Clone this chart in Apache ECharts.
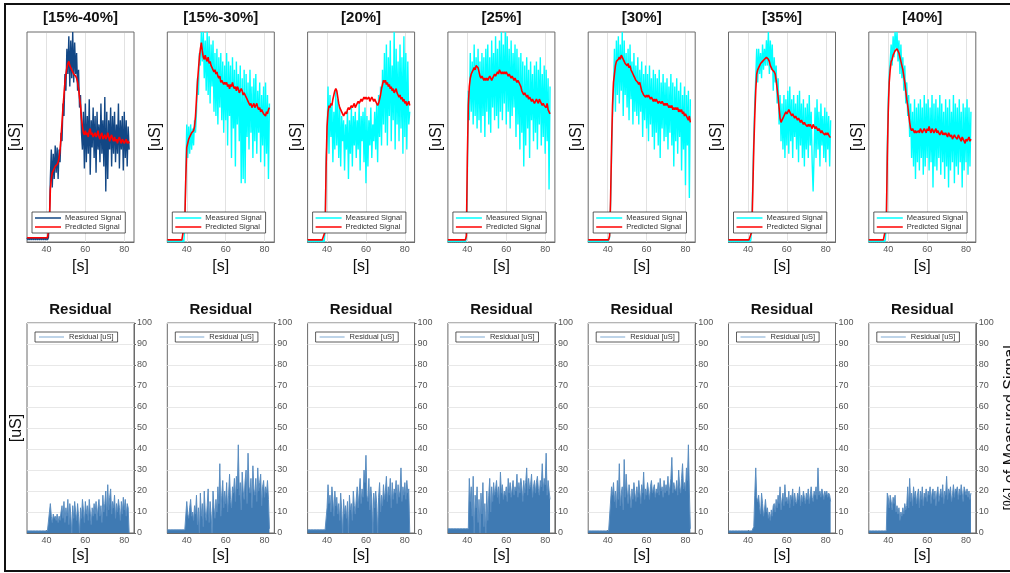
<!DOCTYPE html>
<html><head><meta charset="utf-8">
<script src="https://cdn.jsdelivr.net/npm/echarts@6/dist/echarts.min.js"></script>
<style>html,body{margin:0;padding:0;background:#fff}#c{width:1010px;height:573px}</style>
</head><body><div id="c"></div><script>
const TITLES = ['[15%-40%]','[15%-30%]','[20%]','[25%]','[30%]','[35%]','[40%]'];
const X_TICKS = [40,60,80];
const Y_LABEL = '[uS]', X_LABEL = '[s]', RIGHT_LABEL = '[%] of Measured Signal', RES_TITLE = 'Residual';
const T_START = 30, T_STEP = 0.5, N_PTS = 106;
const TIME = Array.from({length: N_PTS}, (_, i) => T_START + i * T_STEP);

const MEAS_1 = [2,1,2,1,2,1,2,1,2,1, 2,1,2,1,2,1,2,1,2,1, 2,1,2,10,30,44,26,42,30,46, 33,45,30,44,38,52,48,66,60,80,
 72,92,80,98,74,96,78,100,76,95, 80,90,72,82,64,70,52,44,62,35, 66,38,60,42,68,32,58,45,64,40, 60,33,62,44,56,38,66,42,58,36,
 69,24,62,30,58,44,64,36,60,42, 62,38,56,42,66,35,58,44,60,34, 62,40,58,36,55,44];
const PRED_1 = [2,2,2,2,2,2,2,2,2,2, 2,2,2,2,2,2,2,2,2,2, 2,2,2,8,25,30,33,34,35,36, 36,37,38,40,44,50,57,64,70,76,
 80,83,85,86,84,83,82,81,80,80, 79,78,76,73,69,65,59,55,52,51, 53,51,52,50,53,54,51,52,50,51, 52,50,51,53,50,49,51,52,49,50,
 51,49,50,52,50,48,50,51,49,48, 50,48,49,47,49,50,48,47,49,48, 47,48,49,47,48,47];

const MEAS_2 = [1,0,1,0,1,0,1,0,1,0, 1,0,1,0,1,0,1,0,8,32, 56,40,55,42,56,44,54,46,58,52, 62,78,70,90,84,100,86,100,78,96,
 72,100,70,98,66,94,74,96,62,90, 60,92,56,88,64,90,58,86,52,84, 58,90,46,86,60,84,40,88,54,82, 36,86,56,80,48,84,28,78,30,82,
 28,80,50,76,44,82,52,74,40,78, 48,80,42,72,52,76,38,70,46,74, 36,76,42,70,30,66];
const PRED_2 = [1,1,1,1,1,1,1,1,1,1, 1,1,1,1,1,1,1,1,10,30, 45,47,49,50,51,52,52,53,55,60, 68,76,82,88,92,95,91,88,87,89,
 87,86,88,85,86,84,83,82,81,82, 80,81,79,78,79,76,77,76,75,76, 75,76,74,75,73,75,74,76,74,73, 74,72,74,73,71,72,73,72,70,71,
 70,69,68,67,66,65,66,64,65,66, 64,65,66,64,63,64,62,63,62,61, 61,60,62,61,63,64];

const MEAS_3 = [1,0,1,0,1,0,1,0,1,0, 1,0,1,0,1,0,1,0,5,40, 48,74,42,70,50,66,38,62,44,72, 46,68,40,64,36,60,48,58,34,56,
 44,62,30,58,42,64,36,60,46,62, 40,58,44,66,34,60,48,62,38,64, 28,60,36,58,46,64,40,56,48,62, 44,66,38,70,50,74,46,82,56,90,
 52,94,46,88,60,96,48,84,58,100, 44,92,56,86,48,94,54,88,42,98, 50,90,44,86,56,62];
const PRED_3 = [1,1,1,1,1,1,1,1,1,1, 1,1,1,1,1,1,1,1,5,35, 55,62,65,64,66,65,68,70,72,73, 72,69,66,64,63,62,61,60,61,62,
 61,63,64,63,64,65,64,65,66,64, 65,66,67,66,67,68,67,68,69,68, 69,68,68,69,67,68,69,68,67,68, 67,66,65,66,68,70,73,75,77,76,
 77,75,76,74,75,73,74,72,73,71, 72,73,71,70,69,70,68,69,67,68, 66,67,65,66,67,65];

const MEAS_4 = [0,1,0,1,0,1,0,1,0,1, 0,1,0,1,0,1,0,1,0,2, 30,72,58,90,62,86,56,94,60,88, 54,92,58,86,52,90,60,88,50,92,
 62,94,56,88,52,96,64,90,58,98, 60,92,54,96,62,100,58,94,66,100, 56,98,62,92,54,96,60,90,64,94, 50,92,56,88,44,90,52,86,36,84,
 46,88,54,82,40,86,58,80,48,84, 52,86,44,82,56,88,46,80,50,84, 42,82,48,78,25,74];
const PRED_4 = [1,1,1,1,1,1,1,1,1,1, 1,1,1,1,1,1,1,1,1,3, 40,65,74,78,80,81,82,83,82,84, 84,83,81,79,78,79,78,77,78,77,
 78,77,78,79,78,77,78,79,80,79, 80,81,80,82,81,80,81,80,81,80, 81,80,79,80,79,78,79,78,77,78, 77,76,77,76,75,74,72,71,70,71,
 70,69,70,68,69,68,67,68,67,66, 67,68,67,66,68,67,66,65,66,65, 65,64,66,63,62,61];

const MEAS_5 = [0,1,0,1,0,1,0,1,0,1, 0,1,0,1,0,1,0,1,0,1, 0,1,2,18,40,60,72,92,62,96, 70,98,66,94,72,100,60,96,70,90,
 64,92,58,94,68,86,56,90,62,84, 60,88,56,82,62,86,50,80,58,84, 54,80,48,84,56,78,50,82,44,80, 52,78,46,82,40,76,54,80,48,76,
 50,78,44,74,52,80,46,76,36,74, 48,78,42,72,50,76,34,70,44,74, 27,70,46,72,21,68];
const PRED_5 = [1,1,1,1,1,1,1,1,1,1, 1,1,1,1,1,1,1,1,1,1, 1,1,3,20,45,65,76,80,84,86, 86,87,88,87,89,88,87,86,85,85,
 84,85,83,84,82,81,80,79,78,77, 77,76,75,76,74,72,71,70,70,69, 70,69,70,69,68,69,68,67,68,67, 68,67,66,67,67,66,67,66,65,66,
 65,66,65,64,65,64,65,63,64,63, 64,63,64,62,63,62,63,61,62,60, 61,60,59,58,60,57];

const MEAS_6 = [0,1,0,1,0,1,0,1,0,1, 0,1,0,1,0,1,0,1,0,1, 0,1,0,1,8,30,50,66,78,92, 76,92,80,90,78,94,82,92,84,96,
 84,100,80,96,82,94,72,88,76,84, 66,78,56,70,48,66,44,70,40,68, 46,72,42,74,48,68,40,70,50,66, 44,70,38,72,46,66,40,68,36,64,
 44,66,40,70,46,62,38,24,42,64, 40,68,44,62,36,66,46,60,40,64, 38,62,44,60,36,58];
const PRED_6 = [1,1,1,1,1,1,1,1,1,1, 1,1,1,1,1,1,1,1,1,1, 1,1,1,1,5,25,45,60,72,80, 82,83,84,85,85,86,86,87,87,88,
 88,87,86,84,83,82,82,81,80,77, 73,69,64,59,57,58,59,60,61,62, 61,62,63,62,61,60,61,60,59,60, 59,58,59,58,57,58,57,56,57,56,
 56,55,56,55,56,55,54,56,55,54, 55,54,53,54,53,52,53,52,52,51, 52,51,52,51,50,50];

const MEAS_7 = [0,1,0,1,0,1,0,1,0,1, 0,1,0,1,0,1,0,1,10,45, 68,80,86,94,84,98,88,100,92,100, 86,96,80,94,78,88,72,84,66,76,
 60,70,50,66,40,62,36,68,30,64, 38,66,34,68,40,64,32,70,36,66, 40,68,34,64,38,70,26,66,36,68, 34,64,40,70,32,66,38,62,30,68,
 36,64,26,68,34,62,38,70,28,66, 36,64,32,68,38,62,26,66,34,64, 38,68,32,64,36,62];
const PRED_7 = [1,1,1,1,1,1,1,1,1,1, 1,1,1,1,1,1,1,1,8,40, 62,76,82,86,87,89,90,91,91,92, 91,90,88,86,84,82,79,76,72,68,
 65,61,57,54,53,54,53,52,53,52, 52,53,52,54,53,52,53,54,53,52, 54,53,55,53,52,54,53,52,53,54, 52,53,52,51,52,53,51,52,51,52,
 51,50,52,51,50,51,49,50,51,50, 50,49,51,50,49,48,50,49,48,47, 49,48,49,50,48,49];

const RESID_1 = [1,1,1,1,1,1,1,1,1,1, 1,1,1,1,1,1,1,1,1,1, 1,1,1,1,14,8,5,9,7,8, 6,9,5,8,6,10,13,7,15,5,
 12,8,16,4,14,9,0,13,7,15, 10,6,14,8,0,12,7,16,11,5, 15,9,13,6,16,10,4,12,8,14, 9,15,6,12,16,8,13,5,18,10,
 14,20,8,23,11,17,21,9,15,12, 18,7,14,10,16,12,6,15,9,17, 11,16,8,14,12,0];
const RESID_2 = [1.5,1.5,1.5,1.5,1.5,1.5,1.5,1.5,1.5,1.5, 1.5,1.5,1.5,1.5,1.5,1.5,1.5,1.5,1.5,1.5, 15,9,7,12,16,8,10,6,13,9, 18,4,12,0,19,8,14,3,20,10,
 6,13,21,5,15,9,0,20,12,7, 16,10,22,14,33,8,18,25,12,20, 14,24,10,18,28,16,12,22,19,26, 15,27,21,42,18,24,11,29,20,16,
 25,30,14,38,22,19,26,12,32,21, 18,26,15,31,20,24,28,13,22,25, 17,22,19,25,16,2];
const RESID_3 = [1.5,1.5,1.5,1.5,1.5,1.5,1.5,1.5,1.5,1.5, 1.5,1.5,1.5,1.5,1.5,1.5,1.5,1.5,1.5,1.5, 12,23,14,18,10,22,16,8,20,13, 17,9,14,6,19,11,0,16,9,13,
 7,15,0,18,11,14,6,20,13,9, 16,22,12,19,26,14,21,17,30,24, 37,18,15,26,11,22,16,0,19,12, 20,14,0,17,24,10,18,13,23,16,
 20,27,15,22,18,26,12,24,16,21, 19,25,14,23,17,20,31,15,22,18, 24,16,25,19,21,0];
const RESID_4 = [2,2,2,2,2,2,2,2,2,2, 2,2,2,2,2,2,2,2,2,2, 2,2,26,15,22,8,27,0,18,12, 22,5,16,0,19,9,24,3,14,0,
 20,6,18,26,10,22,15,24,18,21, 25,17,22,14,29,19,23,16,20,18, 22,15,26,19,24,17,21,25,18,22, 20,28,17,24,19,26,22,15,25,19,
 24,31,18,26,21,23,28,17,22,25, 19,24,27,21,18,25,22,33,20,26, 23,38,18,25,20,16];
const RESID_5 = [1,1,1,1,1,1,1,1,1,1, 1,1,1,1,1,1,1,1,1,1, 1,1,1,1,22,18,24,15,20,12, 25,16,33,13,19,22,11,35,17,28,
 20,14,23,18,12,21,16,24,19,15, 22,17,25,20,14,23,19,29,16,21, 18,24,20,16,22,25,19,21,23,17, 21,19,24,18,26,20,22,17,25,19,
 23,20,27,18,22,26,36,19,24,21, 20,25,18,30,22,19,26,33,21,24, 20,31,25,42,20,2];
const RESID_6 = [1,1,1,1,1,1,1,1,1,1, 1,1,1,1,1,1,1,1,1,1, 1,1,1,1,1,1,3,18,31,17, 15,18,12,9,19,14,8,11,16,10,
 12,7,10,6,11,8,13,14,10,16, 12,18,14,22,11,16,19,13,23,15, 17,14,20,12,18,16,21,13,19,15, 14,19,16,22,13,18,15,20,17,14,
 19,16,21,14,18,22,17,15,20,18, 22,16,31,18,20,17,21,19,16,20, 18,20,17,19,18,15];
const RESID_7 = [1,1,1,1,1,1,1,1,1,1, 1,1,1,1,1,1,1,1,1,19, 17,12,18,15,11,17,14,18,10,13, 9,12,6,10,8,12,9,14,11,13,
 22,12,26,15,19,13,22,17,20,14, 18,21,12,20,16,22,13,19,17,21, 15,20,18,22,14,19,21,16,20,13, 19,22,15,18,21,17,23,14,20,18,
 27,16,21,19,22,15,18,23,17,21, 20,22,16,21,18,23,19,15,22,20, 18,21,17,20,16,19];

const MEAS = [MEAS_1, MEAS_2, MEAS_3, MEAS_4, MEAS_5, MEAS_6, MEAS_7];
const PRED = [PRED_1, PRED_2, PRED_3, PRED_4, PRED_5, PRED_6, PRED_7];
const RESID = [RESID_1, RESID_2, RESID_3, RESID_4, RESID_5, RESID_6, RESID_7];
const MEAS_COLORS = ['#124785','#00ffff','#00ffff','#00ffff','#00ffff','#00ffff','#00ffff'];

const FONT = 'Liberation Sans, Arial, Helvetica, sans-serif';
const LEFTS = [27, 167.3, 307.6, 447.9, 588.2, 728.5, 868.8];
const W = 107, TOP1 = 32, TOP2 = 323, H = 210;
const pairs = arr => TIME.map((t, i) => [t, arr[i]]);

const grid = [], xAxis = [], yAxis = [], series = [], legend = [], graphic = [];
for (let r = 0; r < 2; r++) {
  for (let i = 0; i < 7; i++) {
    const gi = r * 7 + i;
    grid.push({left: LEFTS[i], top: r ? TOP2 : TOP1, width: W, height: H, show: true,
      borderColor: '#6a6a6a', borderWidth: 1, backgroundColor: '#fff'});
    xAxis.push({gridIndex: gi, type: 'value', min: 30, max: 85,
      axisLine: {show: true, onZero: false, lineStyle: {color: '#6a6a6a', width: 1}},
      axisTick: r ? {show: true, inside: true, length: 3, customValues: X_TICKS, lineStyle: {color: '#6a6a6a'}}
                  : {show: true, inside: true, length: H - 1, customValues: X_TICKS, lineStyle: {color: '#e2e2e2'}},
      axisLabel: {customValues: X_TICKS, fontSize: 9, color: '#555', margin: 3, fontFamily: FONT},
      splitLine: {show: false}});
    if (r === 0) {
      yAxis.push({gridIndex: gi, type: 'value', min: 0, max: 100,
        axisLine: {show: false}, axisTick: {show: false}, axisLabel: {show: false}, splitLine: {show: false}});
    } else {
      yAxis.push({gridIndex: gi, type: 'value', position: 'right', min: 0, max: 100, interval: 10,
        axisLine: {show: true, lineStyle: {color: '#6a6a6a'}},
        axisTick: {show: true, length: 2, lineStyle: {color: '#6a6a6a'}},
        axisLabel: {fontSize: 9, color: '#555', margin: 3, fontFamily: FONT},
        splitLine: {show: true, lineStyle: {color: '#e8e8e8'}}});
    }
  }
}
for (let i = 0; i < 7; i++) {
  series.push({type: 'line', name: 'Measured Signal|' + i, xAxisIndex: i, yAxisIndex: i, data: pairs(MEAS[i]),
    symbol: 'none', z: 2, lineStyle: {color: MEAS_COLORS[i], width: 1.4}, itemStyle: {color: MEAS_COLORS[i]}});
  series.push({type: 'line', name: 'Predicted Signal|' + i, xAxisIndex: i, yAxisIndex: i, data: pairs(PRED[i]),
    symbol: 'none', z: 3, lineStyle: {color: '#ff0000', width: 1.6}, itemStyle: {color: '#ff0000'}});
  series.push({type: 'line', name: 'Residual [uS]|' + i, xAxisIndex: 7 + i, yAxisIndex: 7 + i, data: pairs(RESID[i]),
    symbol: 'none', z: 2, lineStyle: {color: '#5a8dc0', width: 1}, itemStyle: {color: '#a8c6e2'},
    areaStyle: {color: '#3f7ab3', opacity: 1}});
  legend.push({left: LEFTS[i] + 5, top: 212, orient: 'vertical', selectedMode: false,
    data: [{name: 'Measured Signal|' + i, itemStyle: {color: MEAS_COLORS[i]}}, {name: 'Predicted Signal|' + i, itemStyle: {color: '#ff0000'}}],
    formatter: n => n.split('|')[0], icon: 'rect', itemWidth: 26, itemHeight: 1.5, itemGap: 1,
    backgroundColor: '#fff', borderColor: '#333', borderWidth: 0.8, padding: [2, 4, 2, 3],
    textStyle: {fontSize: 7.5, color: '#333', fontFamily: FONT, padding: [0, 0, 0, -1]}});
  legend.push({left: LEFTS[i] + 8, top: 332, orient: 'vertical', selectedMode: false,
    data: [{name: 'Residual [uS]|' + i, itemStyle: {color: '#a8c6e2'}}],
    formatter: n => n.split('|')[0], icon: 'rect', itemWidth: 25, itemHeight: 1.5,
    backgroundColor: '#fff', borderColor: '#333', borderWidth: 0.8, padding: [1, 4, 1, 4],
    textStyle: {fontSize: 7.5, color: '#333', fontFamily: FONT}});

  const cx = LEFTS[i] + W / 2;
  const txt = (x, y, text, size, weight, rot) => ({type: 'text', x, y, rotation: rot || 0, silent: true, z: 50,
    style: {text, fontSize: size, fontWeight: weight || 'normal', fontFamily: FONT, fill: '#111', align: 'center', verticalAlign: 'middle'}});
  graphic.push(txt(cx, 18, TITLES[i], 15, 'bold'));
  graphic.push(txt(cx, 310, RES_TITLE, 15, 'bold'));
  graphic.push(txt(LEFTS[i] - 11.5, 137, Y_LABEL, 16, 'normal', Math.PI / 2));
  graphic.push(txt(cx, 267, X_LABEL, 16));
  graphic.push(txt(cx, 556, X_LABEL, 16));
  if (i === 0) graphic.push(txt(LEFTS[0] - 10.5, 428, Y_LABEL, 16, 'normal', Math.PI / 2));
  if (i === 6) graphic.push(txt(1011, 428, RIGHT_LABEL, 16, 'normal', Math.PI / 2));
}
graphic.push({type: 'rect', silent: true, z: 100, shape: {x: 5, y: 4, width: 1012, height: 567},
  style: {fill: 'none', stroke: '#111', lineWidth: 2}});

const chart = echarts.init(document.getElementById('c'), null, {renderer: 'canvas'});
chart.setOption({animation: false, backgroundColor: '#fff', grid, xAxis, yAxis, series, legend, graphic});
</script></body></html>
